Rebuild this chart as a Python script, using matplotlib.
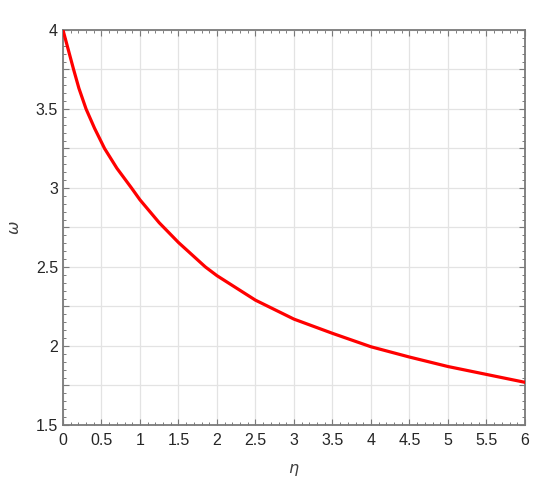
import numpy as np
import matplotlib
matplotlib.use('Agg')
import matplotlib.pyplot as plt
from matplotlib.ticker import MultipleLocator

# values
eta = [0.0, 0.138, 0.207, 0.30, 0.41, 0.54, 0.70, 0.89, 1.0, 1.25, 1.5, 1.85, 2.0,
       2.5, 3.0, 3.5, 4.0, 4.5, 5.0, 5.5, 6.0]
omega = [4.0, 3.75, 3.631, 3.5, 3.378, 3.25, 3.125, 3.0, 2.925, 2.78, 2.655, 2.5, 2.445,
         2.29, 2.17, 2.08, 1.995, 1.93, 1.87, 1.82, 1.77]

x_ticks = np.arange(0, 6.01, 0.5)
y_ticks = np.arange(1.5, 4.01, 0.25)

plt.rcParams['font.family'] = ['Liberation Sans', 'DejaVu Sans']

fig = plt.figure(figsize=(5.5, 4.94), dpi=100)
ax = fig.add_axes([0.1145, 0.1397, 0.84, 0.7996])

ax.plot(eta, omega, color='#ff0000', linewidth=2.3, solid_joinstyle='round', zorder=3)

ax.set_xlim(0, 6)
ax.set_ylim(1.5, 4)
ax.set_xticks(x_ticks)
ax.set_xticklabels(['%g' % v for v in x_ticks])
ax.set_yticks(y_ticks)
ax.set_yticklabels(['%g' % v if abs(v * 2 - round(v * 2)) < 1e-9 else '' for v in y_ticks])
ax.xaxis.set_minor_locator(MultipleLocator(0.1))
ax.yaxis.set_minor_locator(MultipleLocator(0.05))

ax.grid(True, which='major', color='#e3e3e3', linewidth=0.9)
ax.set_axisbelow(True)
ax.tick_params(which='both', direction='in', top=True, right=True, colors='#7a7a7a',
               labelcolor='#262626', labelsize=11.5)
ax.tick_params(which='major', length=4, width=0.8)
ax.tick_params(which='minor', length=2.2, width=0.7)
ax.tick_params(axis='x', pad=6)
for s in ax.spines.values():
    s.set_color('#7a7a7a')
    s.set_linewidth(1.3)

ax.set_xlabel(r'$\eta$', fontsize=11.5, color='#404040', labelpad=10)
ax.set_ylabel(r'$\omega$', fontsize=11.5, color='#404040', labelpad=10)

fig.savefig('out.png', dpi=100)
